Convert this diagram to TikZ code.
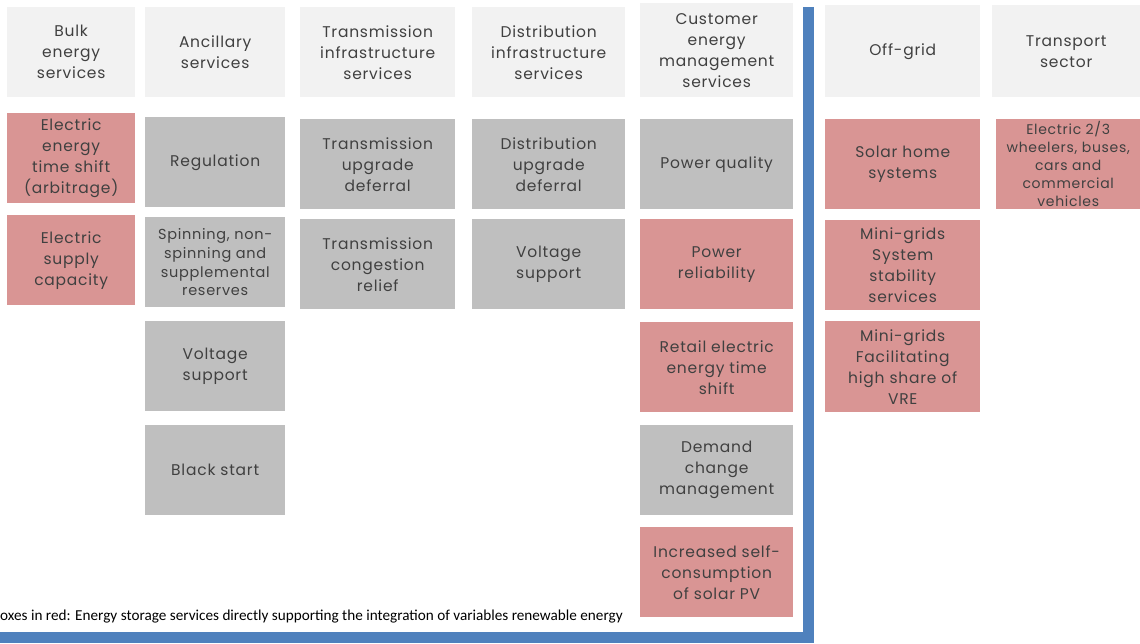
\documentclass[tikz,border=0pt]{standalone}
\usepackage{fontspec}
\setmainfont{Poppins}[LetterSpace=5]
\newfontfamily\notefont{Carlito}

\definecolor{headgray}{HTML}{F2F2F2}
\definecolor{boxgray}{HTML}{BFBFBF}
\definecolor{boxred}{HTML}{D99594}
\definecolor{textgray}{HTML}{404040}
\definecolor{rule}{HTML}{4F81BD}

\tikzset{
  cell/.style={anchor=north west, minimum height=90, align=center, inner sep=0pt,
    text=textgray, font=\fontsize{15.5}{21}\selectfont},
  head/.style={cell, fill=headgray},
  grid/.style={cell, fill=boxgray},
  vre/.style={cell, fill=boxred},
  small/.style={font=\fontsize{14.5}{18.7}\selectfont},
}

\begin{document}
\begin{tikzpicture}[x=1pt,y=-1pt]
\useasboundingbox (0,0) rectangle (1140,644);

% bulk energy
\node[head, minimum width=128] (bulk) at (7,7) {Bulk\\energy\\services};
\node[vre, minimum width=128] (arbitrage) at (7,113) {Electric\\energy\\time shift\\(arbitrage)};
\node[vre, minimum width=128] (capacity) at (7,215) {Electric\\supply\\capacity};

% ancillary
\node[head, minimum width=140] (ancillary) at (145,7) {Ancillary\\services};
\node[grid, minimum width=140] (regulation) at (145,117) {Regulation};
\node[grid, minimum width=140, small] (reserves) at (145,217) {Spinning, non-\\spinning and\\supplemental\\reserves};
\node[grid, minimum width=140] (avoltage) at (145,321) {Voltage\\support};
\node[grid, minimum width=140] (blackstart) at (145,425) {Black start};

% transmission
\node[head, minimum width=155] (transmission) at (300,7) {Transmission\\infrastructure\\services};
\node[grid, minimum width=155] (tdeferral) at (300,119) {Transmission\\upgrade\\deferral};
\node[grid, minimum width=155] (congestion) at (300,219) {Transmission\\congestion\\relief};

% distribution
\node[head, minimum width=153] (distribution) at (472,7) {Distribution\\infrastructure\\services};
\node[grid, minimum width=153] (ddeferral) at (472,119) {Distribution\\upgrade\\deferral};
\node[grid, minimum width=153] (dvoltage) at (472,219) {Voltage\\support};

% customer
\node[head, minimum width=153, minimum height=94] (customer) at (640,3) {Customer\\energy\\management\\services};
\node[grid, minimum width=153] (quality) at (640,119) {Power quality};
\node[vre, minimum width=153] (reliability) at (640,219) {Power\\reliability};
\node[vre, minimum width=153] (retail) at (640,322) {Retail electric\\energy time\\shift};
\node[grid, minimum width=153] (demand) at (640,425) {Demand\\change\\management};
\node[vre, minimum width=153] (selfuse) at (640,527) {Increased self-\\consumption\\of solar PV};

% grid / off-grid divide
\draw[rule, line width=11, miter limit=10] (808.5,7) -- (808.5,637) -- (0,637);

% off-grid
\node[head, minimum width=155, minimum height=92] (offgrid) at (825,5) {Off-grid};
\node[vre, minimum width=155] (solarhome) at (825,119) {Solar home\\systems};
\node[vre, minimum width=155] (stability) at (825,220) {Mini-grids\\System\\stability\\services};
\node[vre, minimum width=155, minimum height=91] (highvre) at (825,321) {Mini-grids\\Facilitating\\high share of\\VRE};

% transport
\node[head, minimum width=148, minimum height=92] (transport) at (992,5) {Transport\\sector};
\node[vre, minimum width=144, font=\fontsize{14}{18}\selectfont] (vehicles) at (996,119) {Electric 2/3\\wheelers, buses,\\cars and\\commercial\\vehicles};

\node[anchor=west, inner sep=0pt, text=black, font=\notefont\fontsize{15.2}{17}\selectfont] (note) at (0,617)
  {oxes in red: Energy storage services directly supporting the integration of variables renewable energy};
\end{tikzpicture}
\end{document}
